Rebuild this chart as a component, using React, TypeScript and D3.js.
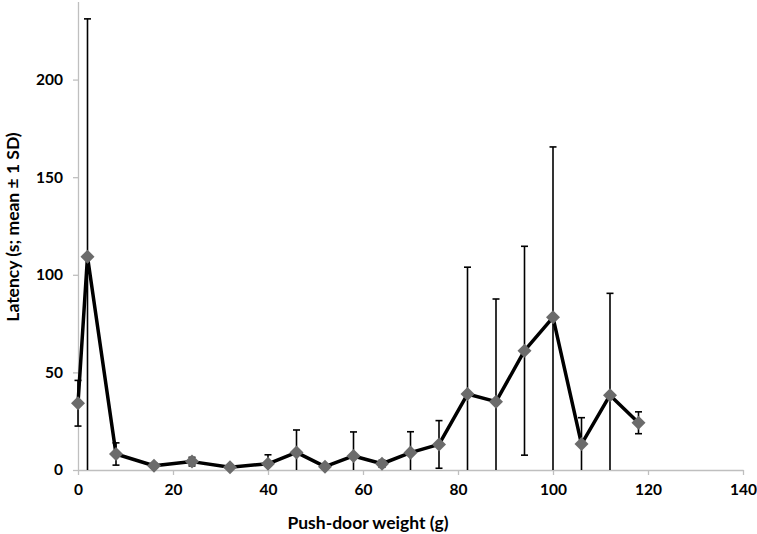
import React, { useEffect, useRef } from "react";
import * as d3 from "d3";

const weights = [0, 2, 8, 16, 24, 32, 40, 46, 52, 58, 64, 70, 76, 82, 88, 94, 100, 106, 112, 118];
const means = [34.2, 109.3, 8.2, 2.2, 4.3, 1.4, 3.2, 9.0, 1.7, 7.2, 3.2, 8.9, 13.1, 38.9, 35.0, 61.1, 78.2, 13.3, 38.3, 24.2];
const sds = [11.7, 121.8, 5.7, 1.2, 2.2, 0.8, 4.6, 11.5, 1.0, 12.3, 1.8, 10.7, 12.2, 65.0, 52.6, 53.5, 87.3, 13.5, 52.2, 5.6];
const xTicks = [0, 20, 40, 60, 80, 100, 120, 140];
const yTicks = [0, 50, 100, 150, 200];

const App = () => {
  const width = 757;
  const height = 534;
  const marginLeft = 78;
  const marginRight = 14;
  const marginTop = 1.5;
  const marginBottom = 64;
  const svgRef = useRef<SVGSVGElement>(null);

  useEffect(() => {
    if (!svgRef.current) return;
    const svg = d3.select(svgRef.current);
    svg.selectAll("*").remove();

    const x = d3.scaleLinear().domain([0, 140]).range([marginLeft, width - marginRight]);
    const y = d3.scaleLinear().domain([0, 240]).range([height - marginBottom, marginTop]);

    const data = weights.map((w, i) => ({ w, m: means[i], sd: sds[i] }));
    const font = "Lato, 'Open Sans', sans-serif";

    // x axis
    svg
      .append("g")
      .attr("class", "xAxis")
      .attr("transform", `translate(0,${y(0)})`)
      .call(d3.axisBottom(x).tickValues(xTicks).tickSize(5).tickSizeOuter(0).tickPadding(9))
      .call((g) => g.selectAll("path, line").attr("stroke", "#bfbfbf").attr("stroke-width", 1.3))
      .selectAll("text")
      .style("font-family", font)
      .style("font-size", "15.5px")
      .style("font-weight", "bold")
      .attr("fill", "#000");

    // y axis
    svg
      .append("g")
      .attr("class", "yAxis")
      .attr("transform", `translate(${x(0)},0)`)
      .call(d3.axisLeft(y).tickValues(yTicks).tickSize(5).tickSizeOuter(0).tickPadding(10))
      .call((g) => g.selectAll("path, line").attr("stroke", "#bfbfbf").attr("stroke-width", 1.3))
      .selectAll("text")
      .style("font-family", font)
      .style("font-size", "15.5px")
      .style("font-weight", "bold")
      .attr("fill", "#000");

    // error bars
    const eb = svg.append("g").attr("stroke", "#000").attr("stroke-width", 1.6);
    data.forEach((d) => {
      const lo = Math.max(0, d.m - d.sd);
      const hi = d.m + d.sd;
      eb.append("line").attr("x1", x(d.w)).attr("x2", x(d.w)).attr("y1", y(lo)).attr("y2", y(hi));
      eb.append("line").attr("x1", x(d.w) - 3.5).attr("x2", x(d.w) + 3.5).attr("y1", y(hi)).attr("y2", y(hi));
      if (d.m - d.sd > 0) {
        eb.append("line").attr("x1", x(d.w) - 3.5).attr("x2", x(d.w) + 3.5).attr("y1", y(lo)).attr("y2", y(lo));
      }
    });

    // line
    const line = d3
      .line<{ w: number; m: number }>()
      .x((d) => x(d.w))
      .y((d) => y(d.m));

    svg
      .append("path")
      .datum(data)
      .attr("fill", "none")
      .attr("stroke", "#000")
      .attr("stroke-width", 3.5)
      .attr("stroke-linejoin", "round")
      .attr("d", line);

    // markers
    svg
      .append("g")
      .selectAll("path")
      .data(data)
      .join("path")
      .attr("transform", (d) => `translate(${x(d.w)},${y(d.m)})`)
      .attr("d", d3.symbol(d3.symbolDiamond2, 125)())
      .attr("fill", "#6b6b6b");

    // axis titles
    svg
      .append("text")
      .attr("x", 368)
      .attr("y", 529)
      .attr("text-anchor", "middle")
      .style("font-family", font)
      .style("font-size", "17.5px")
      .style("font-weight", "bold")
      .text("Push-door weight (g)");

    svg
      .append("text")
      .attr("transform", `translate(19,227) rotate(-90)`)
      .attr("text-anchor", "middle")
      .style("font-family", font)
      .style("font-size", "17.5px")
      .style("font-weight", "bold")
      .text("Latency (s; mean \u00b1 1 SD)");
  }, []);

  return (
    <div>
      <svg
        ref={svgRef}
        width={width}
        height={height}
        style={{ position: "absolute", left: 0, top: 0, background: "#fff" }}
      ></svg>
    </div>
  );
};

export default App;
